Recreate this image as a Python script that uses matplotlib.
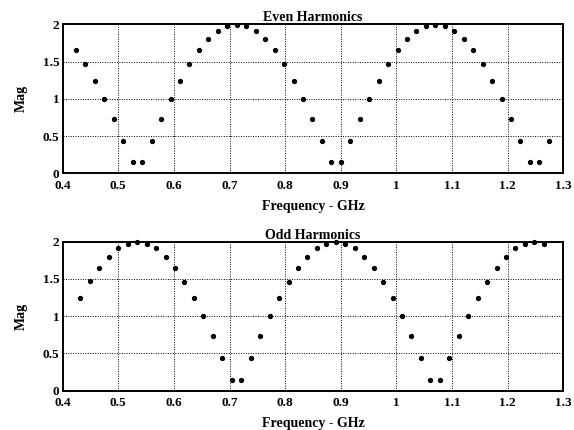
import matplotlib
matplotlib.use("Agg")
import matplotlib.pyplot as plt

# Even harmonics (top panel)
even_freq = [0.424, 0.441, 0.458, 0.475, 0.492, 0.509, 0.526, 0.543, 0.560, 0.577,
             0.594, 0.611, 0.628, 0.645, 0.662, 0.679, 0.696, 0.713, 0.730, 0.747,
             0.764, 0.781, 0.798, 0.815, 0.832, 0.849, 0.866, 0.883, 0.900, 0.917,
             0.934, 0.951, 0.968, 0.985, 1.002, 1.019, 1.036, 1.053, 1.070, 1.087,
             1.104, 1.121, 1.138, 1.155, 1.172, 1.189, 1.206, 1.223, 1.240, 1.257,
             1.274]
even_mag = [1.65, 1.46, 1.24, 1.00, 0.73, 0.44, 0.15, 0.15, 0.44, 0.73,
            1.00, 1.24, 1.46, 1.65, 1.80, 1.91, 1.97, 1.99, 1.97, 1.91,
            1.80, 1.65, 1.46, 1.24, 1.00, 0.73, 0.44, 0.15, 0.15, 0.44,
            0.73, 1.00, 1.24, 1.46, 1.65, 1.80, 1.91, 1.97, 1.99, 1.97,
            1.91, 1.80, 1.65, 1.46, 1.24, 1.00, 0.73, 0.44, 0.15, 0.15,
            0.44]

# Odd harmonics (bottom panel)
odd_freq = [0.432, 0.449, 0.466, 0.483, 0.500, 0.517, 0.534, 0.551, 0.568, 0.585,
            0.602, 0.619, 0.636, 0.653, 0.670, 0.687, 0.704, 0.721, 0.738, 0.755,
            0.772, 0.789, 0.806, 0.823, 0.840, 0.857, 0.874, 0.891, 0.908, 0.925,
            0.942, 0.959, 0.976, 0.993, 1.010, 1.027, 1.044, 1.061, 1.078, 1.095,
            1.112, 1.129, 1.146, 1.163, 1.180, 1.197, 1.214, 1.231, 1.248, 1.265]
odd_mag = [1.25, 1.47, 1.65, 1.80, 1.91, 1.97, 2.00, 1.97, 1.91, 1.80,
           1.65, 1.46, 1.24, 1.00, 0.73, 0.44, 0.15, 0.15, 0.44, 0.73,
           1.00, 1.24, 1.46, 1.65, 1.80, 1.91, 1.97, 2.00, 1.97, 1.91,
           1.80, 1.65, 1.46, 1.24, 1.00, 0.73, 0.44, 0.15, 0.15, 0.44,
           0.73, 1.00, 1.24, 1.46, 1.65, 1.80, 1.91, 1.97, 2.00, 1.97]

x_ticks = [0.4, 0.5, 0.6, 0.7, 0.8, 0.9, 1.0, 1.1, 1.2, 1.3]
x_ticklabels = ["0.4", "0.5", "0.6", "0.7", "0.8", "0.9", "1", "1.1", "1.2", "1.3"]
y_ticks = [0, 0.5, 1, 1.5, 2]
y_ticklabels = ["0", "0.5", "1", "1.5", "2"]

plt.rcParams['font.family'] = ['Liberation Serif', 'DejaVu Serif']
plt.rcParams['font.weight'] = 'bold'

fig = plt.figure(figsize=(5.74, 4.30), dpi=100)
ax1 = fig.add_axes([0.1092, 0.5970, 0.8721, 0.3466])
ax2 = fig.add_axes([0.1092, 0.0914, 0.8721, 0.3466])

for ax, fx, my, title in [(ax1, even_freq, even_mag, "Even Harmonics"),
                          (ax2, odd_freq, odd_mag, "Odd Harmonics")]:
    ax.plot(fx, my, linestyle='none', marker='o', markersize=2.8,
            color='black', clip_on=False)
    ax.set_xlim(0.4, 1.3)
    ax.set_ylim(0, 2)
    ax.set_xticks(x_ticks)
    ax.set_xticklabels(x_ticklabels)
    ax.set_yticks(y_ticks)
    ax.set_yticklabels(y_ticklabels)
    ax.grid(True, linestyle=(0, (1, 1.5)), color='black', linewidth=0.7)
    ax.tick_params(axis='x', length=0, labelsize=9.5, pad=4.5)
    ax.tick_params(axis='y', length=0, labelsize=9.5, pad=2.5)
    for lab in ax.get_xticklabels() + ax.get_yticklabels():
        lab.set_fontweight('bold')
    for sp in ax.spines.values():
        sp.set_linewidth(1.4)
        sp.set_color('black')
    ax.set_title(title, fontsize=10, fontweight='bold', pad=1.5)
    ax.set_xlabel("Frequency - GHz", fontsize=10, fontweight='bold', labelpad=6)
    ax.set_ylabel("Mag", fontsize=10, fontweight='bold', labelpad=10.5)

fig.savefig("out.png", dpi=100)
